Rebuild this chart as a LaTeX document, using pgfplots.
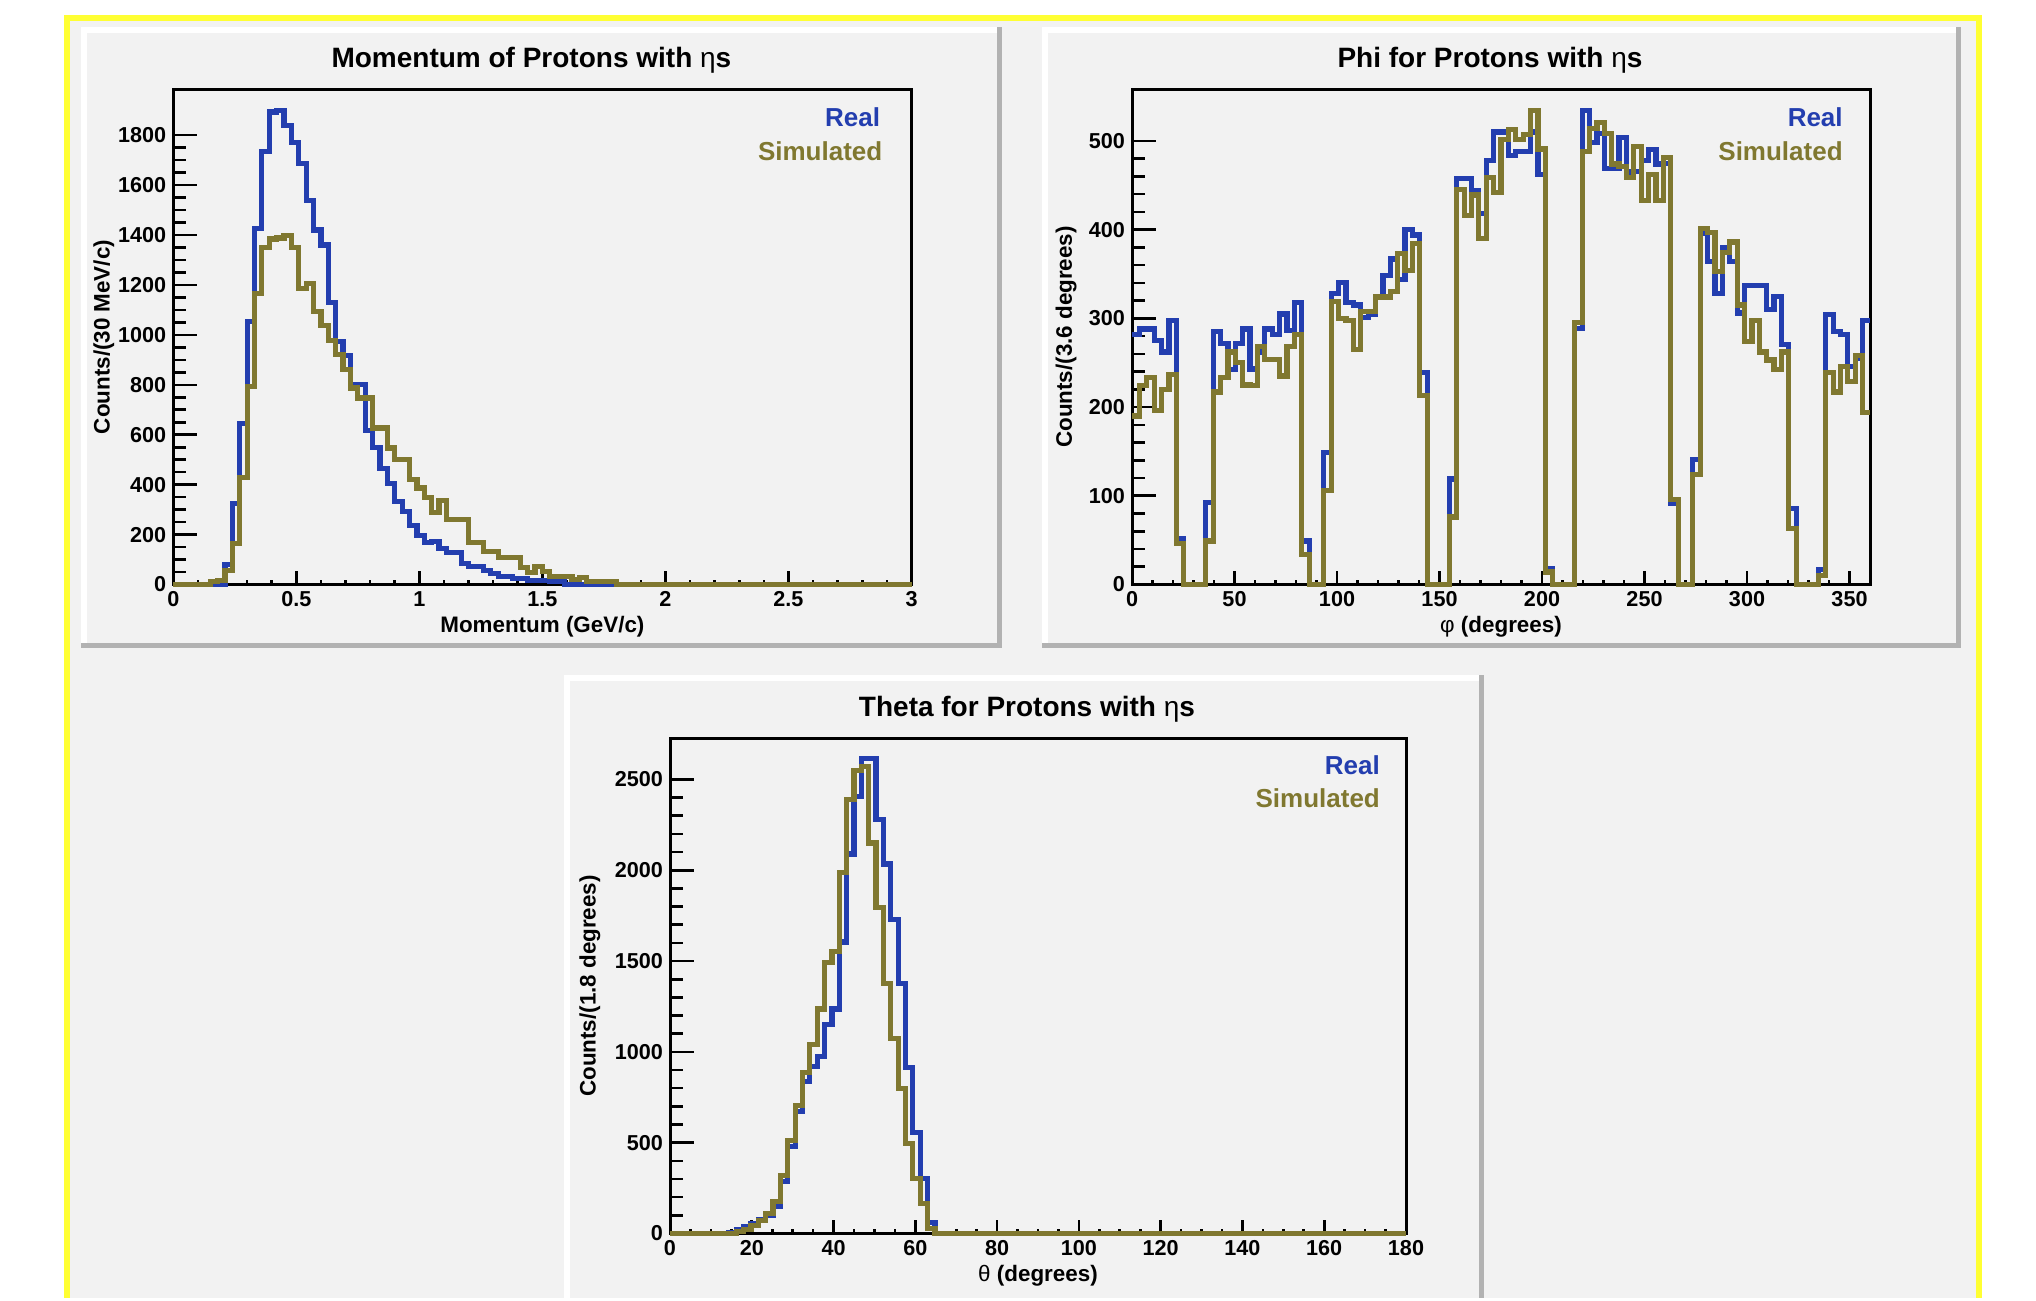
\documentclass[border=0pt]{standalone}
\usepackage{pgfplots}
\usepackage{pgfplotstable}
\pgfplotsset{compat=1.18}
\usepackage{fontspec}
\setmainfont{Liberation Sans}
\definecolor{realblue}{RGB}{35,62,175}
\definecolor{simolive}{RGB}{128,120,48}
\definecolor{padgray}{RGB}{242,242,242}
\definecolor{beveldark}{RGB}{178,178,178}
\definecolor{frameyellow}{RGB}{255,255,51}
\newcommand{\ttlfont}{\fontsize{14}{16}\selectfont\bfseries}
\newcommand{\tickfont}{\fontsize{10.8}{12}\selectfont\bfseries}
\newcommand{\labfont}{\fontsize{11.2}{13}\selectfont\bfseries}
\newcommand{\legfont}{\fontsize{13}{15}\selectfont\bfseries}

\pgfplotstableread{
x real sim
0.00 0 0
0.15 0 13
0.18 0 15
0.21 80 55
0.24 325 165
0.27 645 430
0.30 1053 793
0.33 1427 1167
0.36 1735 1349
0.39 1893 1384
0.42 1900 1388
0.45 1840 1398
0.48 1772 1349
0.51 1688 1187
0.54 1537 1207
0.57 1420 1093
0.60 1360 1036
0.63 1130 976
0.66 973 923
0.69 916 860
0.72 800 787
0.75 800 747
0.78 617 747
0.81 550 627
0.84 466 627
0.87 405 547
0.90 333 500
0.93 292 500
0.96 236 420
0.99 195 387
1.02 167 347
1.05 172 287
1.08 143 337
1.11 129 260
1.14 129 260
1.17 84 260
1.20 71 167
1.23 71 167
1.26 56 133
1.29 43 133
1.32 33 107
1.35 33 107
1.38 24 107
1.41 24 67
1.44 17 47
1.47 17 71
1.50 17 53
1.53 13 33
1.56 13 33
1.59 0 33
1.62 0 20
1.65 0 27
1.68 0 13
1.71 0 13
1.74 0 13
1.77 0 13
1.80 0 0
3.00 0 0
}\momtab

\pgfplotstableread{
x real sim
0 282 190
3.6 288 224
7.2 288 233
10.8 275 196
14.4 262 220
18 298 237
21.6 52 46
25.2 0 0
28.8 0 0
32.4 0 0
36 92 49
39.6 285 217
43.2 272 233
46.8 242 262
50.4 272 250
54 288 225
57.6 243 224
61.2 262 268
64.8 288 254
68.4 282 254
72 305 235
75.6 286 268
79.2 318 282
82.8 49 34
86.4 0 0
90 0 0
93.6 149 106
97.2 328 319
100.8 340 300
104.4 318 298
108 315 265
111.6 301 308
115.2 305 308
118.8 325 324
122.4 348 324
126 367 330
129.6 344 373
133.2 400 354
136.8 394 384
140.4 239 213
144 0 0
147.6 0 0
151.2 0 0
154.8 119 76
158.4 458 445
162 458 416
165.6 444 439
169.2 418 390
172.8 478 459
176.4 510 442
180 510 502
183.6 484 513
187.2 488 502
190.8 488 507
194.4 510 534
198 462 491
201.6 18 14
205.2 0 0
208.8 0 0
212.4 0 0
216 289 295
219.6 534 488
223.2 498 514
226.8 508 521
230.4 469 508
234 469 474
237.6 504 471
241.2 465 459
244.8 466 494
248.4 478 433
252 490 462
255.6 474 433
259.2 475 481
262.8 91 96
266.4 0 0
270 0 0
273.6 141 124
277.2 396 401
280.8 364 397
284.4 328 353
288 380 374
291.6 364 386
295.2 306 315
298.8 337 274
302.4 337 298
306 337 262
309.6 310 253
313.2 325 242
316.8 271 262
320.4 86 63
324 0 0
327.6 0 0
331.2 0 0
334.8 17 10
338.4 304 239
342 285 217
345.6 282 246
349.2 246 229
352.8 255 258
356.4 298 194
360 298 194
}\phitab

\pgfplotstableread{
x real sim
0 0 0
14.4 5 0
16.2 20 12
18 37 20
19.8 55 44
21.6 75 72
23.4 100 112
25.2 151 177
27 287 320
28.8 480 513
30.6 673 706
32.4 839 885
34.2 918 1041
36 976 1236
37.8 1151 1490
39.6 1236 1554
41.4 1605 1988
43.2 2089 2389
45 2407 2549
46.8 2613 2570
48.6 2613 2150
50.4 2277 1795
52.2 2034 1377
54 1730 1074
55.8 1377 798
57.6 912 495
59.4 557 303
61.2 303 164
63 62 28
64.8 0 0
180 0 0
}\thetatab

\pgfplotsset{
  rootaxis/.style={
    scale only axis, clip=false, anchor=south west,
    height=247.5pt,
    axis line style={line width=1.5pt, black},
    tick pos=left, tick align=inside,
    tick style={black, line width=1.3pt},
    major tick length=9pt, minor tick length=4pt,
    xtick style={/pgfplots/major tick length=7pt,/pgfplots/minor tick length=2.5pt},
    ytick style={/pgfplots/major tick length=12pt,/pgfplots/minor tick length=6.5pt},
    ticklabel style={font=\tickfont},
    label style={font=\labfont},
    every axis title shift=0pt,
    title style={font=\ttlfont, at={([yshift=11.25pt,xshift=-5.5pt]axis description cs:0.5,1)}, anchor=base, inner sep=0pt},
    xlabel style={at={([yshift=-23.75pt]axis description cs:0.5,0)}, anchor=base, inner sep=0pt},
  },
  histr/.style={const plot, realblue, line width=2.6pt, line join=miter},
  hists/.style={const plot, simolive, line width=2.6pt, line join=miter},
}

\begin{document}
\begin{tikzpicture}
\begin{scope}[x=0.5pt,y=-0.5pt]
\fill[white] (0,0) rectangle (2036,1298);
\fill[padgray] (66,17) rectangle (1979,1298);
\draw[frameyellow, line width=3pt] (66.5,1298) -- (66.5,17.5) -- (1978.5,17.5) -- (1978.5,1298);
% pad 1
\fill[beveldark] (81,27) rectangle (1002,648);
\fill[white] (81,27) rectangle (997,643);
\fill[padgray] (87,33) rectangle (997,643);
% pad 2
\fill[beveldark] (1042,27) rectangle (1961,648);
\fill[white] (1042,27) rectangle (1956,643);
\fill[padgray] (1048,33) rectangle (1956,643);
% pad 3
\fill[beveldark] (564,675) rectangle (1484,1298);
\fill[white] (564,675) rectangle (1479,1298);
\fill[padgray] (570,681) rectangle (1479,1298);
\end{scope}

% ---------- Momentum ----------
\begin{axis}[rootaxis, at={(86.65pt,-292.25pt)}, width=369.1pt,
  xmin=0, xmax=3, ymin=0, ymax=1983,
  xtick={0,0.5,1,1.5,2,2.5,3}, xticklabels={0,0.5,1,1.5,2,2.5,3}, minor x tick num=4,
  ytick={0,200,400,600,800,1000,1200,1400,1600,1800},
  yticklabels={0,200,400,600,800,1000,1200,1400,1600,1800}, minor y tick num=3,
  title={Momentum of Protons with {\mdseries η}s},
  xlabel={Momentum (GeV/c)}, ylabel={Counts/(30 MeV/c)},
  ylabel style={at={([xshift=-34.7pt]axis description cs:0,0.5)}, anchor=center, inner sep=0pt}]
\addplot[histr] table[x=x,y=real] {\momtab};
\addplot[hists] table[x=x,y=sim] {\momtab};
\node[anchor=base east, inner sep=0pt, font=\legfont, text=realblue] at (rel axis cs:0.958,0.926) {Real};
\node[anchor=base east, inner sep=0pt, font=\legfont, text=simolive] at (rel axis cs:0.961,0.856) {Simulated};
\end{axis}

% ---------- Phi ----------
\begin{axis}[rootaxis, at={(566pt,-292.25pt)}, width=369pt,
  xmin=0, xmax=360, ymin=0, ymax=558,
  xtick={0,50,...,350}, xticklabels={0,50,100,150,200,250,300,350}, minor x tick num=4,
  ytick={0,100,...,500}, yticklabels={0,100,200,300,400,500}, minor y tick num=4,
  title={Phi for Protons with {\mdseries η}s},
  xlabel={{\mdseries φ} (degrees)}, ylabel={Counts/(3.6 degrees)},
  ylabel style={at={([xshift=-33pt]axis description cs:0,0.5)}, anchor=center, inner sep=0pt}]
\addplot[histr] table[x=x,y=real] {\phitab};
\addplot[hists] table[x=x,y=sim] {\phitab};
\node[anchor=base east, inner sep=0pt, font=\legfont, text=realblue] at (rel axis cs:0.9635,0.926) {Real};
\node[anchor=base east, inner sep=0pt, font=\legfont, text=simolive] at (rel axis cs:0.9635,0.856) {Simulated};
\end{axis}

% ---------- Theta ----------
\begin{axis}[rootaxis, at={(335pt,-616.75pt)}, width=368pt,
  xmin=0, xmax=180, ymin=0, ymax=2725,
  xtick={0,20,...,180}, xticklabels={0,20,40,60,80,100,120,140,160,180}, minor x tick num=3,
  ytick={0,500,...,2500}, yticklabels={0,500,1000,1500,2000,2500}, minor y tick num=4,
  title={Theta for Protons with {\mdseries η}s},
  xlabel={{\mdseries θ} (degrees)}, ylabel={Counts/(1.8 degrees)},
  ylabel style={at={([xshift=-40pt]axis description cs:0,0.5)}, anchor=center, inner sep=0pt}]
\addplot[histr] table[x=x,y=real] {\thetatab};
\addplot[hists] table[x=x,y=sim] {\thetatab};
\node[anchor=base east, inner sep=0pt, font=\legfont, text=realblue] at (rel axis cs:0.965,0.928) {Real};
\node[anchor=base east, inner sep=0pt, font=\legfont, text=simolive] at (rel axis cs:0.965,0.860) {Simulated};
\end{axis}
\end{tikzpicture}
\end{document}
